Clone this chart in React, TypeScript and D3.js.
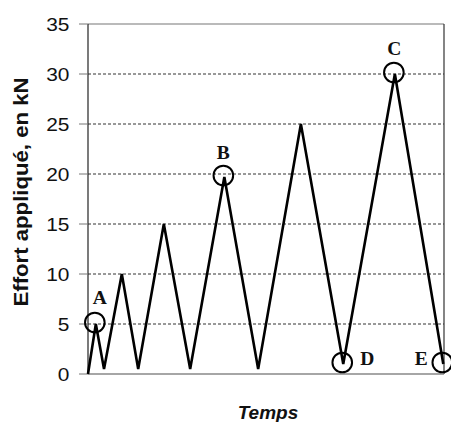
import React from "react";
import * as d3 from "d3";

const times = [0, 2.2, 4.5, 9.5, 14.1, 21.3, 28.7, 38.3, 47.8, 59.8, 71.7, 86.2, 99.8];
const efforts = [0, 5, 0.5, 10, 0.5, 15, 0.5, 19.7, 0.5, 25, 1, 30, 1];
const yTicks = [0, 5, 10, 15, 20, 25, 30, 35];
const annotIndex = [1, 7, 11, 10, 12];
const annotLabels = ["A", "B", "C", "D", "E"];
const yTitle = "Effort appliqué, en kN";
const xTitle = "Temps";

export default function App() {
  const W = 451, H = 422;
  const left = 88, right = 444, top = 24, bottom = 374;
  const x = d3.scaleLinear().domain([0, 100]).range([left, right]);
  const y = d3.scaleLinear().domain([0, 35]).range([bottom, top]);
  const pts = times.map((t, i) => [t, efforts[i]] as [number, number]);
  const line = d3.line<[number, number]>().x((d) => x(d[0])).y((d) => y(d[1]));

  const labelOff: Record<string, [number, number]> = {
    A: [4, -20],
    B: [-1, -18],
    C: [-0.5, -19],
    D: [24, 1],
    E: [-22, 1],
  };

  return (
    <svg width={W} height={H} style={{ position: "absolute", left: 0, top: 0, background: "#fff" }}>
      <rect x={0} y={0} width={W} height={H} fill="#fff" />
      {yTicks.filter((v) => v > 0 && v < 35).map((v) => (
        <line key={"g" + v} x1={left} x2={right} y1={y(v)} y2={y(v)} stroke="#333" strokeWidth={1} strokeDasharray="3,2" />
      ))}
      <line x1={left} x2={right} y1={top} y2={top} stroke="#777" strokeWidth={1.2} />
      <line x1={right} x2={right} y1={top} y2={bottom} stroke="#333" strokeWidth={1.2} />
      <line x1={left} x2={right} y1={bottom} y2={bottom} stroke="#888" strokeWidth={1.5} />
      <line x1={left} x2={left} y1={top} y2={bottom} stroke="#222" strokeWidth={1.2} />
      {yTicks.map((v) => (
        <g key={"t" + v}>
          <line x1={left - 9} x2={left} y1={y(v)} y2={y(v)} stroke="#777" strokeWidth={1} />
          <text x={69.5} y={y(v) + 7} textAnchor="end" fontFamily="Arial, 'Liberation Sans', sans-serif" fontSize={19} transform={`translate(${69.5 * -0.1}, 0) scale(1.1, 1)`} fill="#111">
            {v}
          </text>
        </g>
      ))}
      <path d={line(pts) || ""} fill="none" stroke="#000" strokeWidth={2.6} strokeLinejoin="miter" />
      {annotIndex.map((idx, k) => {
        const lab = annotLabels[k];
        const cx = x(times[idx]);
        const cy = y(efforts[idx]);
        const off = labelOff[lab];
        return (
          <g key={lab}>
            <circle cx={cx - 1} cy={cy - 1.5} r={9.8} fill="none" stroke="#000" strokeWidth={2} />
            <text x={cx + off[0]} y={cy + off[1]} textAnchor="middle" fontFamily="'Liberation Serif', 'Times New Roman', serif" fontWeight="bold" fontSize={19.5} fill="#111">
              {lab}
            </text>
          </g>
        );
      })}
      <text transform={`translate(28, 192) rotate(-90)`} textAnchor="middle" fontFamily="Arial, 'Liberation Sans', sans-serif" fontWeight="bold" fontSize={20} textLength={229} lengthAdjust="spacingAndGlyphs" fill="#111">
        {yTitle}
      </text>
      <text x={268} y={419} textAnchor="middle" fontFamily="Arial, 'Liberation Sans', sans-serif" fontWeight="bold" fontStyle="italic" fontSize={19} fill="#111">
        {xTitle}
      </text>
    </svg>
  );
}
